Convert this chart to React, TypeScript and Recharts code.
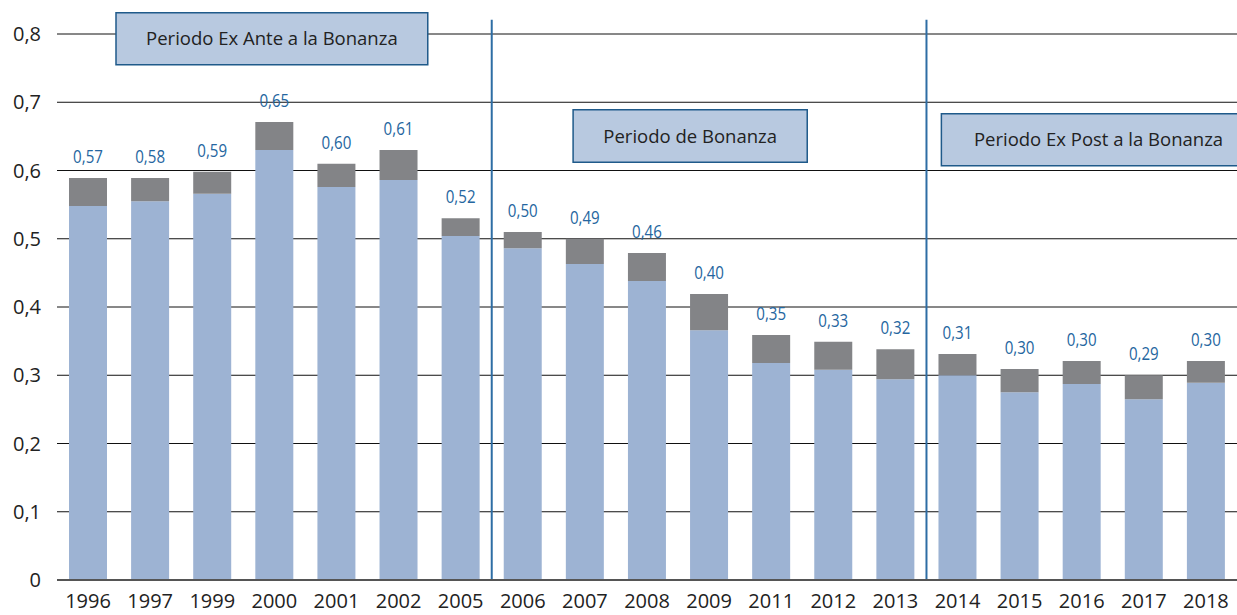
import {
  BarChart,
  Bar,
  XAxis,
  YAxis,
  CartesianGrid,
  ReferenceLine,
  ReferenceArea,
  LabelList,
} from 'recharts';

// Years on the category axis
const years = [
  '1996', '1997', '1999', '2000', '2001', '2002', '2005', '2006', '2007', '2008',
  '2009', '2011', '2012', '2013', '2014', '2015', '2016', '2017', '2018',
];

// Lower (blue) part of each bar
const baseValues = [
  0.548, 0.555, 0.566, 0.63, 0.576, 0.586, 0.504, 0.486, 0.463, 0.438,
  0.366, 0.318, 0.308, 0.294, 0.3, 0.275, 0.287, 0.265, 0.289,
];

// Upper (grey) part of each bar
const topValues = [
  0.041, 0.034, 0.032, 0.041, 0.034, 0.044, 0.026, 0.024, 0.037, 0.041,
  0.053, 0.041, 0.041, 0.044, 0.031, 0.034, 0.034, 0.035, 0.032,
];

// Printed value above each bar
const valueLabels = [
  '0,57', '0,58', '0,59', '0,65', '0,60', '0,61', '0,52', '0,50', '0,49', '0,46',
  '0,40', '0,35', '0,33', '0,32', '0,31', '0,30', '0,30', '0,29', '0,30',
];

const yTicks = [0, 0.1, 0.2, 0.3, 0.4, 0.5, 0.6, 0.7, 0.8];

// Period boundaries (in bar slots) and annotation boxes
const periodBreaks = [7, 14];
const periodBoxes = [
  { label: 'Periodo Ex Ante a la Bonanza', x1: 0.95, x2: 5.97, y1: 0.755, y2: 0.831 },
  { label: 'Periodo de Bonanza', x1: 8.31, x2: 12.08, y1: 0.612, y2: 0.689 },
  { label: 'Periodo Ex Post a la Bonanza', x1: 14.24, x2: 19.3, y1: 0.607, y2: 0.683 },
];

const data = years.map((year, i) => ({
  year,
  slot: i + 0.5,
  base: baseValues[i],
  top: topValues[i],
  label: valueLabels[i],
}));

const font = '"Open Sans", "Noto Sans", sans-serif';

const formatTick = (v: number) => (v === 0 ? '0' : v.toFixed(1).replace('.', ','));

// condensed-looking value labels above each bar
const renderValueLabel = (props: any) => {
  const { x, y, width, index } = props;
  return (
    <text
      transform={`translate(${x + width / 2},${y - 15}) scale(0.84,1)`}
      textAnchor="middle"
      fill="#2566a0"
      fontSize={18}
      fontFamily={font}
    >
      {valueLabels[index]}
    </text>
  );
};

export default function App() {
  return (
    <div style={{ position: 'absolute', left: 0, top: 0, width: 1237, height: 615, background: '#fff' }}>
      <BarChart
        width={1237}
        height={615}
        data={data}
        margin={{ top: 34, right: 0, left: 0, bottom: 0 }}
        barSize={38}
      >
        <CartesianGrid vertical={false} stroke="#111" xAxisId="cat" />
        <XAxis
          xAxisId="cat"
          dataKey="year"
          height={35}
          tickLine={false}
          axisLine={{ stroke: '#555', strokeWidth: 2 }}
          tick={{ fill: '#222', fontSize: 20, fontFamily: font }}
          interval={0}
          tickMargin={8}
        />
        <XAxis
          xAxisId="num"
          dataKey="slot"
          type="number"
          domain={[0, 19]}
          allowDataOverflow
          hide
        />
        <YAxis
          width={57}
          domain={[0, 0.8]}
          ticks={yTicks}
          tickFormatter={formatTick}
          tickLine={false}
          axisLine={false}
          tick={{ fill: '#222', fontSize: 20, fontFamily: font }}
          tickMargin={10}
        />
        <Bar xAxisId="cat" dataKey="base" stackId="a" fill="#9db3d3" isAnimationActive={false} />
        <Bar xAxisId="cat" dataKey="top" stackId="a" fill="#838487" isAnimationActive={false}>
          <LabelList dataKey="label" content={renderValueLabel} />
        </Bar>
        {periodBreaks.map((b) => (
          <ReferenceLine
            key={b}
            xAxisId="num"
            segment={[{ x: b, y: 0 }, { x: b, y: 0.821 }]}
            stroke="#2e6da4"
            strokeWidth={2}
            ifOverflow="visible"
          />
        ))}
        {periodBoxes.map((box) => (
          <ReferenceArea
            key={box.label}
            xAxisId="num"
            x1={box.x1}
            x2={box.x2}
            y1={box.y1}
            y2={box.y2}
            fill="#b8c9e0"
            fillOpacity={1}
            stroke="#1f5a8a"
            strokeWidth={1.5}
            ifOverflow="visible"
            label={{ value: box.label, position: 'center', fill: '#222', fontSize: 18.5, fontFamily: font }}
          />
        ))}
      </BarChart>
    </div>
  );
}
